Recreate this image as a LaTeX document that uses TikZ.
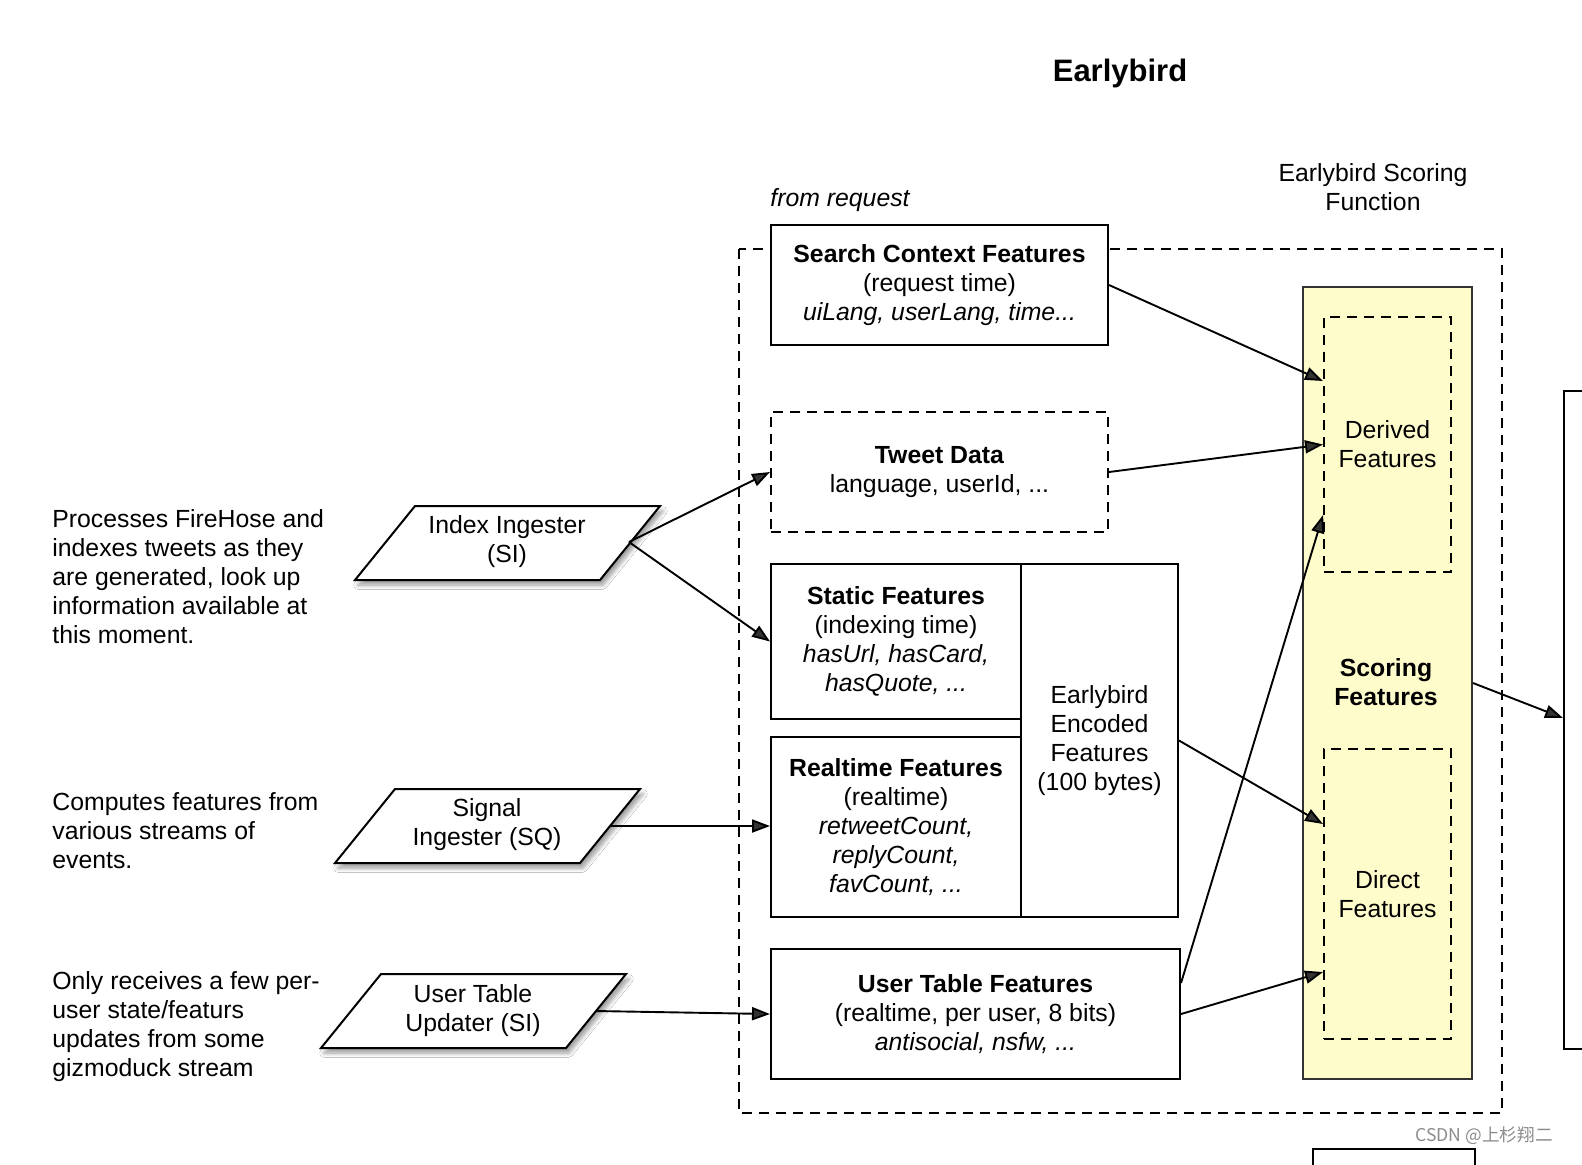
\documentclass[tikz,border=0pt]{standalone}
\usepackage{fontspec}
\setmainfont{Liberation Sans}
\newfontfamily\cjkfont{Noto Sans CJK SC}
\usetikzlibrary{arrows.meta,calc,shadows.blur}
\definecolor{scoreyellow}{RGB}{255,252,204}
\tikzset{
  every node/.style={font=\fontsize{12.4}{14.5}\selectfont},
  box/.style={draw, line width=1pt, anchor=north west, inner sep=0pt, align=center, fill=white},
  dbox/.style={box, dash pattern=on 5pt off 3.5pt},
  para/.style={draw, line width=1pt, fill=white, line join=miter,
    blur shadow={shadow xshift=1.5pt, shadow yshift=-2.5pt, shadow blur steps=6}},
  arr/.style={line width=0.95pt, -{Triangle[length=9pt,width=6.5pt]}},
  lbl/.style={align=left, anchor=west, inner sep=0pt},
  ctext/.style={align=center, inner sep=0pt},
}
\begin{document}
\begin{tikzpicture}[x=0.5pt, y=-0.5pt]
\useasboundingbox (0,0) rectangle (1582,1164);
\clip (0,0) rectangle (1582,1164);
\fill[white] (0,0) rectangle (1582,1164);

% title and captions
\node[ctext, font=\fontsize{15.5}{18}\selectfont\bfseries] (title) at (1120,73) {Earlybird};
\node[anchor=west, inner sep=0pt, font=\fontsize{12.4}{14.5}\selectfont\itshape] (fromreq) at (770,200) {from request};
\node[ctext] (sfcap) at (1373,187) {Earlybird Scoring\\Function};

% outer dashed container
\draw[line width=1pt, dash pattern=on 5pt off 3.5pt] (739,249) rectangle (1502,1113);

% scoring column
\node[draw=black!80, line width=1pt, fill=scoreyellow, anchor=north west, inner sep=0pt,
      minimum width=84.5pt, minimum height=396pt] (score) at (1302,286) {};
\node[dbox, fill=none, minimum width=63.5pt, minimum height=127.5pt] (derived) at (1323,316) {Derived\\Features};
\node[dbox, fill=none, minimum width=63.5pt, minimum height=145pt] (direct) at (1323,748) {Direct\\Features};
\node[ctext, font=\fontsize{12.4}{14.5}\selectfont\bfseries] (scoringlbl) at (1386,682) {Scoring\\Features};

% feature boxes
\node[box, minimum width=168.5pt, minimum height=60pt] (search) at (770,224)
  {\textbf{Search Context Features}\\(request time)\\\textit{uiLang, userLang, time...}};
\node[dbox, minimum width=168.5pt, minimum height=60pt] (tweet) at (770,411)
  {\textbf{Tweet Data}\\language, userId, ...};
\node[box, minimum width=125pt, minimum height=77.5pt] (static) at (770,563)
  {\textbf{Static Features}\\(indexing time)\\\textit{hasUrl, hasCard,}\\\textit{hasQuote, ...}};
\node[box, minimum width=78.5pt, minimum height=176.5pt] (encoded) at (1020,563)
  {Earlybird\\Encoded\\Features\\(100 bytes)};
\node[box, minimum width=125pt, minimum height=90pt] (realtime) at (770,736)
  {\textbf{Realtime Features}\\(realtime)\\\textit{retweetCount,}\\\textit{replyCount,}\\\textit{favCount, ...}};
\node[box, minimum width=204.5pt, minimum height=65pt] (usertable) at (770,948)
  {\textbf{User Table Features}\\(realtime, per user, 8 bits)\\\textit{antisocial, nsfw, ...}};

% partially visible boxes on the right / bottom
\node[box, minimum width=60pt, minimum height=329pt] (rbox) at (1563,390) {};
\node[box, minimum width=81pt, minimum height=40pt] (bbox) at (1312,1148) {};

% ingesters (parallelograms)
\path[para] (415,506) -- (660,506) -- (600,580) -- (355,580) -- cycle;
\node[ctext] (index) at (507,542) {Index Ingester\\(SI)};
\coordinate (index-e) at (629,542);

\path[para] (395,789) -- (640,789) -- (580,863) -- (335,863) -- cycle;
\node[ctext] (signal) at (487,825) {Signal\\Ingester (SQ)};
\coordinate (signal-e) at (610,826);

\path[para] (381,974) -- (626,974) -- (566,1048) -- (321,1048) -- cycle;
\node[ctext] (updater) at (473,1011) {User Table\\Updater (SI)};
\coordinate (updater-e) at (596,1011);

% left descriptions
\node[lbl] (d1) at (52,577) {Processes FireHose and\\indexes tweets as they\\are generated, look up\\information available at\\this moment.};
\node[lbl] (d2) at (52,831) {Computes features from\\various streams of\\events.};
\node[lbl] (d3) at (52,1027) {Only receives a few per-\\user state/featurs\\updates from some\\gizmoduck stream};

% connectors
\draw[arr] (index-e) -- (tweet.west);
\draw[arr] (index-e) -- (static.west);
\draw[arr] (signal-e) -- (realtime.west |- signal-e);
\draw[arr] (updater-e) -- ($(usertable.west)+(0,0)$);
\draw[arr] (search.east) -- ($(derived.north west)+(0,65)$);
\draw[arr] (tweet.east) -- (derived.west);
\draw[arr] ($(usertable.north east)+(0,35)$) -- ($(derived.south west)+(0,-58)$);
\draw[arr] (encoded.east) -- ($(direct.north west)+(0,76)$);
\draw[arr] (usertable.east) -- ($(direct.south west)+(0,-68)$);
\draw[arr] (score.east) -- ($(rbox.west)+(0,-2)$);

% watermark
\node[anchor=east, inner sep=0pt, text=black!45, font=\cjkfont\fontsize{8.8}{10}\selectfont] (wm) at (1553,1136) {CSDN @上杉翔二};
\end{tikzpicture}
\end{document}
